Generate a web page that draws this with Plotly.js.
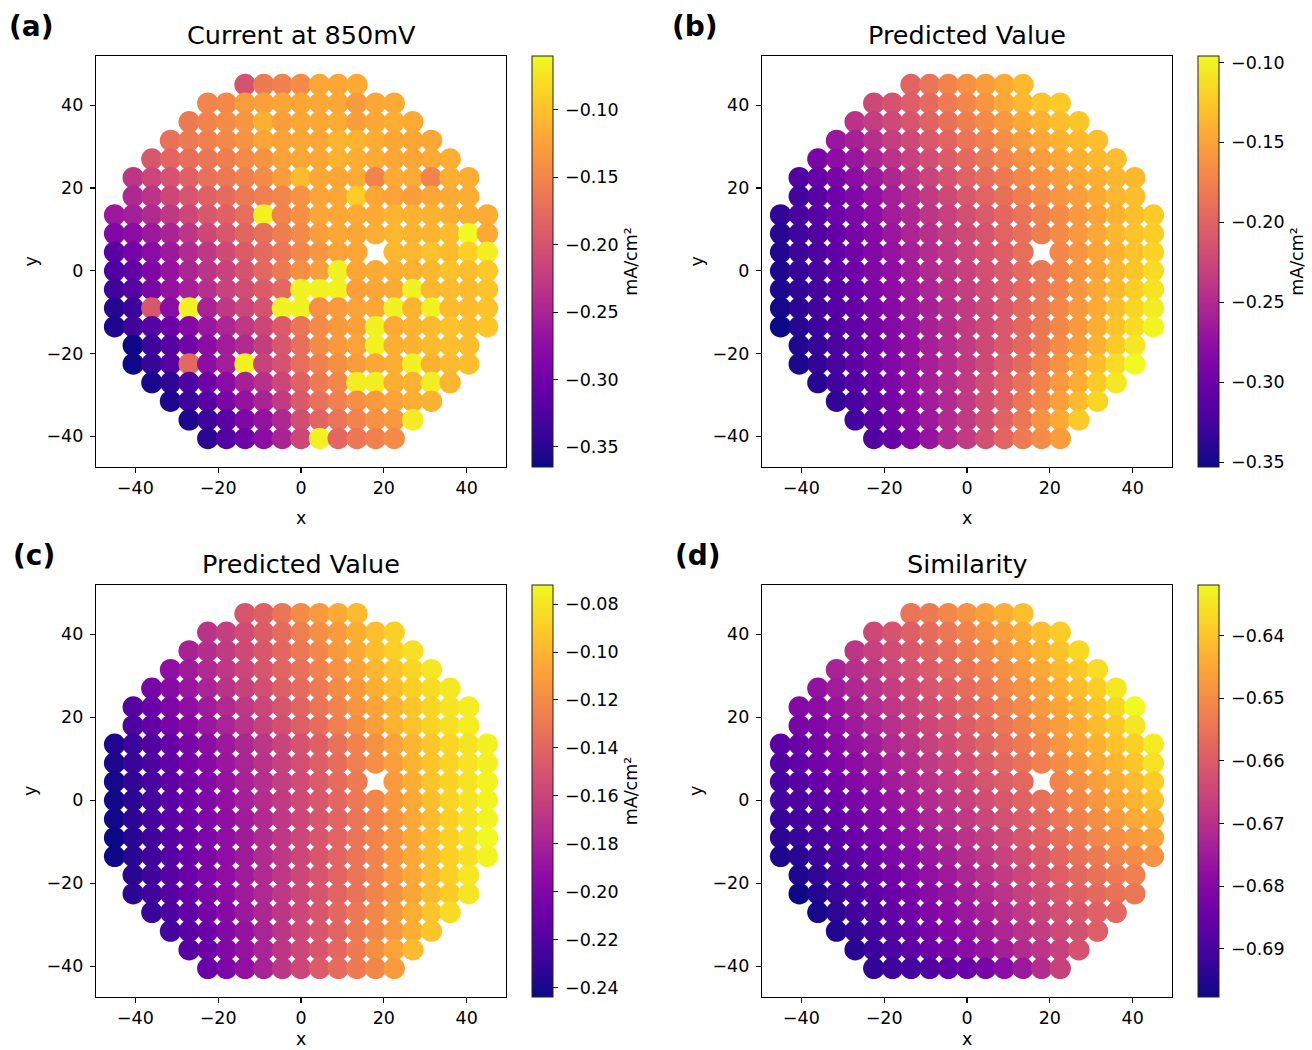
<!DOCTYPE html>
<html><head><meta charset="utf-8">
<script src="https://cdn.plot.ly/plotly-3.0.1.min.js"></script>
<style>html,body{margin:0;padding:0;background:#fff}#chart{width:1312px;height:1050px}</style>
</head><body><div id="chart"></div>
<script>
const n = null;
const xGrid = [-45,-40.5,-36,-31.5,-27,-22.5,-18,-13.5,-9,-4.5,0,4.5,9,13.5,18,22.5,27,31.5,36,40.5,45];
const yGrid = [45,40.5,36,31.5,27,22.5,18,13.5,9,4.5,0,-4.5,-9,-13.5,-18,-22.5,-27,-31.5,-36,-40.5];
const axisTicks = [-40,-20,0,20,40];
const panelTitles = ['Current at 850mV','Predicted Value','Predicted Value','Similarity'];
const panelLabels = ['(a)','(b)','(c)','(d)'];
const colorbarTitles = ['mA/cm²','mA/cm²','mA/cm²',''];
const colorbarSteps = [0.05,0.05,0.02,0.01];

const currentA = [
[n,n,n,n,n,n,n,-.200,-.160,-.155,-.145,-.120,-.120,-.118,n,n,n,n,n,n,n],
[n,n,n,n,n,-.150,-.148,-.130,-.127,-.122,-.120,-.120,-.120,-.132,-.120,-.118,n,n,n,n,n],
[n,n,n,n,-.160,-.152,-.145,-.135,-.113,-.128,-.120,-.120,-.118,-.128,-.120,-.115,-.118,n,n,n,n],
[n,n,n,-.170,-.160,-.155,-.148,-.138,-.122,-.125,-.120,-.120,-.110,-.110,-.115,-.120,-.120,-.120,n,n,n],
[n,n,-.195,-.182,-.172,-.165,-.157,-.146,-.138,-.124,-.120,-.120,-.112,-.115,-.118,-.120,-.120,-.118,-.115,n,n],
[n,-.230,-.215,-.200,-.185,-.170,-.162,-.155,-.145,-.130,-.105,-.120,-.120,-.118,-.152,-.118,-.118,-.152,-.115,-.115,n],
[n,-.245,-.232,-.212,-.198,-.185,-.175,-.163,-.156,-.150,-.138,-.122,-.120,-.093,-.120,-.125,-.128,-.120,-.118,-.115,n],
[-.262,-.255,-.243,-.228,-.212,-.196,-.185,-.172,-.066,-.152,-.140,-.122,-.120,-.118,-.118,-.110,-.112,-.112,-.115,-.116,-.117],
[-.285,-.277,-.262,-.250,-.230,-.213,-.196,-.180,-.171,-.157,-.146,-.128,-.120,-.120,-.116,-.108,-.110,-.110,-.106,-.060,-.118],
[-.315,-.295,-.277,-.262,-.243,-.228,-.208,-.190,-.177,-.164,-.149,-.135,-.125,-.120,n,-.108,-.108,-.100,-.105,-.090,-.068],
[-.325,-.310,-.287,-.268,-.249,-.233,-.217,-.200,-.178,-.160,-.142,-.128,-.066,-.120,-.118,-.114,-.112,-.108,-.100,-.103,-.096],
[-.335,-.318,-.290,-.268,-.254,-.238,-.217,-.205,-.190,-.177,-.066,-.065,-.066,-.127,-.122,-.118,-.066,-.108,-.104,-.105,-.100],
[-.350,-.338,-.195,-.277,-.066,-.250,-.228,-.212,-.200,-.066,-.066,-.140,-.132,-.124,-.121,-.066,-.110,-.066,-.105,-.105,-.100],
[-.355,-.335,-.318,-.302,-.282,-.264,-.247,-.228,-.212,-.190,-.165,-.146,-.133,-.126,-.066,-.118,-.111,-.107,-.100,-.103,-.098],
[n,-.365,-.337,-.320,-.297,-.277,-.258,-.243,-.222,-.195,-.172,-.145,-.133,-.124,-.066,-.115,-.112,-.106,-.103,-.103,n],
[n,-.364,-.340,-.320,-.178,-.276,-.256,-.066,-.217,-.200,-.172,-.155,-.142,-.130,-.121,-.115,-.066,-.112,-.106,-.103,n],
[n,n,-.357,-.345,-.325,-.300,-.277,-.252,-.236,-.212,-.185,-.161,-.149,-.068,-.068,-.115,-.112,-.068,-.109,n,n],
[n,n,n,-.355,-.338,-.315,-.290,-.268,-.250,-.225,-.192,-.170,-.155,-.142,-.133,-.124,-.115,-.112,n,n,n],
[n,n,n,n,-.355,-.338,-.315,-.287,-.268,-.245,-.205,-.182,-.167,-.152,-.139,-.133,-.070,n,n,n,n],
[n,n,n,n,n,-.348,-.320,-.300,-.276,-.250,-.2125,-.066,-.179,-.164,-.155,-.145,n,n,n,n,n]
];

const predictedB = [
[n,n,n,n,n,n,n,-.199,-.186,-.173,-.163,-.155,-.145,-.135,n,n,n,n,n,n,n],
[n,n,n,n,n,-.224,-.214,-.204,-.194,-.181,-.171,-.160,-.147,-.137,-.129,-.124,n,n,n,n,n],
[n,n,n,n,-.242,-.232,-.222,-.212,-.201,-.189,-.178,-.168,-.158,-.147,-.140,-.132,-.127,n,n,n,n],
[n,n,n,-.268,-.258,-.245,-.232,-.222,-.209,-.199,-.186,-.176,-.165,-.155,-.147,-.140,-.135,-.132,n,n,n],
[n,n,-.291,-.278,-.268,-.255,-.242,-.230,-.219,-.207,-.194,-.183,-.173,-.163,-.155,-.147,-.140,-.135,-.132,n,n],
[n,-.317,-.304,-.291,-.278,-.266,-.253,-.240,-.227,-.214,-.201,-.191,-.181,-.171,-.163,-.155,-.147,-.142,-.137,-.135,n],
[n,-.325,-.312,-.299,-.286,-.273,-.260,-.248,-.235,-.222,-.209,-.199,-.189,-.178,-.168,-.160,-.153,-.145,-.137,-.132,n],
[-.335,-.322,-.312,-.299,-.289,-.276,-.263,-.253,-.240,-.230,-.217,-.207,-.196,-.186,-.176,-.168,-.158,-.150,-.140,-.132,-.124],
[-.340,-.327,-.317,-.304,-.291,-.281,-.268,-.255,-.245,-.232,-.222,-.212,-.199,-.189,-.178,-.168,-.158,-.147,-.137,-.129,-.122],
[-.343,-.330,-.320,-.307,-.296,-.284,-.271,-.260,-.248,-.237,-.224,-.214,-.204,-.191,n,-.171,-.160,-.150,-.140,-.129,-.119],
[-.345,-.332,-.322,-.309,-.299,-.286,-.276,-.263,-.250,-.240,-.230,-.217,-.207,-.194,-.183,-.173,-.160,-.150,-.137,-.127,-.114],
[-.345,-.335,-.325,-.312,-.302,-.289,-.278,-.266,-.255,-.242,-.232,-.219,-.207,-.196,-.183,-.173,-.160,-.147,-.135,-.122,-.109],
[-.348,-.338,-.327,-.314,-.304,-.291,-.281,-.268,-.258,-.245,-.235,-.222,-.209,-.196,-.183,-.171,-.158,-.145,-.132,-.117,-.104],
[-.353,-.340,-.330,-.317,-.307,-.294,-.284,-.271,-.258,-.248,-.235,-.222,-.209,-.196,-.183,-.171,-.158,-.142,-.129,-.114,-.099],
[n,-.343,-.332,-.320,-.309,-.296,-.284,-.273,-.260,-.248,-.235,-.222,-.209,-.196,-.183,-.168,-.155,-.140,-.124,-.106,n],
[n,-.345,-.335,-.322,-.309,-.296,-.286,-.273,-.260,-.248,-.235,-.222,-.207,-.194,-.178,-.163,-.147,-.132,-.114,-.096,n],
[n,n,-.340,-.327,-.314,-.302,-.289,-.273,-.260,-.248,-.235,-.219,-.204,-.189,-.173,-.158,-.142,-.124,-.106,n,n],
[n,n,n,-.335,-.322,-.307,-.294,-.278,-.263,-.250,-.235,-.219,-.204,-.186,-.171,-.153,-.135,-.117,n,n,n],
[n,n,n,n,-.327,-.312,-.296,-.281,-.266,-.250,-.235,-.219,-.201,-.183,-.163,-.145,-.124,n,n,n,n],
[n,n,n,n,n,-.317,-.304,-.286,-.271,-.250,-.235,-.217,-.199,-.181,-.168,-.155,n,n,n,n,n]
];

const predictedC = [
[n,n,n,n,n,n,n,-.149,-.143,-.132,-.120,-.112,-.105,-.098,n,n,n,n,n,n,n],
[n,n,n,n,n,-.170,-.163,-.155,-.146,-.137,-.127,-.118,-.112,-.103,-.096,-.089,n,n,n,n,n],
[n,n,n,n,-.180,-.173,-.165,-.156,-.148,-.139,-.130,-.122,-.113,-.105,-.096,-.089,-.082,n,n,n,n],
[n,n,n,-.192,-.184,-.175,-.167,-.158,-.149,-.141,-.134,-.125,-.117,-.108,-.100,-.093,-.086,-.079,n,n,n],
[n,n,-.204,-.196,-.187,-.179,-.170,-.161,-.153,-.144,-.137,-.129,-.120,-.112,-.103,-.096,-.089,-.084,-.079,n,n],
[n,-.218,-.210,-.201,-.192,-.184,-.175,-.167,-.158,-.149,-.141,-.132,-.124,-.115,-.108,-.100,-.093,-.086,-.081,-.077,n],
[n,-.222,-.213,-.204,-.196,-.187,-.179,-.170,-.161,-.153,-.144,-.136,-.127,-.118,-.110,-.101,-.094,-.087,-.082,-.077,n],
[-.237,-.229,-.220,-.211,-.203,-.194,-.186,-.177,-.168,-.160,-.151,-.143,-.134,-.125,-.117,-.108,-.100,-.093,-.086,-.081,-.075],
[-.239,-.230,-.222,-.213,-.204,-.196,-.187,-.179,-.170,-.161,-.153,-.144,-.136,-.127,-.118,-.110,-.101,-.094,-.087,-.081,-.075],
[-.241,-.232,-.223,-.215,-.206,-.198,-.189,-.180,-.172,-.163,-.155,-.146,-.137,-.129,n,-.112,-.103,-.094,-.087,-.081,-.074],
[-.242,-.234,-.225,-.216,-.208,-.199,-.191,-.182,-.173,-.165,-.156,-.148,-.139,-.130,-.122,-.113,-.105,-.096,-.087,-.081,-.074],
[-.242,-.234,-.225,-.216,-.208,-.199,-.192,-.184,-.175,-.167,-.158,-.149,-.141,-.132,-.124,-.115,-.106,-.098,-.089,-.081,-.074],
[-.244,-.235,-.227,-.218,-.210,-.201,-.192,-.184,-.175,-.167,-.158,-.149,-.141,-.132,-.124,-.115,-.106,-.098,-.089,-.081,-.072],
[-.244,-.235,-.227,-.218,-.210,-.201,-.192,-.184,-.175,-.167,-.158,-.149,-.141,-.132,-.124,-.115,-.106,-.098,-.089,-.082,-.074],
[n,-.235,-.227,-.218,-.210,-.201,-.192,-.184,-.175,-.167,-.158,-.149,-.141,-.132,-.124,-.115,-.106,-.098,-.089,-.079,n],
[n,-.234,-.226,-.218,-.209,-.201,-.193,-.184,-.176,-.167,-.158,-.150,-.141,-.133,-.124,-.116,-.107,-.098,-.090,-.080,n],
[n,n,-.230,-.222,-.213,-.204,-.196,-.186,-.177,-.168,-.158,-.149,-.139,-.130,-.122,-.113,-.103,-.094,-.084,n,n],
[n,n,n,-.225,-.216,-.208,-.198,-.189,-.179,-.168,-.158,-.149,-.141,-.130,-.122,-.113,-.103,-.093,n,n,n],
[n,n,n,n,-.218,-.208,-.198,-.189,-.179,-.168,-.158,-.149,-.139,-.129,-.118,-.108,-.098,n,n,n,n],
[n,n,n,n,n,-.210,-.201,-.191,-.180,-.168,-.158,-.146,-.137,-.129,-.122,-.112,n,n,n,n,n]
];

const similarityD = [
[n,n,n,n,n,n,n,-.6549,-.6536,-.6510,-.6490,-.6464,-.6437,-.6411,n,n,n,n,n,n,n],
[n,n,n,n,n,-.6646,-.6620,-.6594,-.6568,-.6543,-.6517,-.6491,-.6466,-.6440,-.6414,-.6388,n,n,n,n,n],
[n,n,n,n,-.6687,-.6662,-.6636,-.6610,-.6584,-.6559,-.6533,-.6507,-.6482,-.6456,-.6430,-.6404,-.6370,n,n,n,n],
[n,n,n,-.6729,-.6703,-.6678,-.6652,-.6626,-.6600,-.6575,-.6549,-.6523,-.6498,-.6472,-.6446,-.6420,-.6395,-.6362,n,n,n],
[n,n,-.6771,-.6745,-.6719,-.6694,-.6668,-.6642,-.6616,-.6591,-.6565,-.6539,-.6514,-.6488,-.6462,-.6436,-.6411,-.6385,-.6345,n,n],
[n,-.6800,-.6787,-.6761,-.6735,-.6710,-.6684,-.6658,-.6632,-.6607,-.6581,-.6555,-.6530,-.6504,-.6478,-.6452,-.6427,-.6401,-.6370,-.6319,n],
[n,-.6820,-.6803,-.6777,-.6751,-.6726,-.6700,-.6674,-.6648,-.6623,-.6597,-.6571,-.6546,-.6520,-.6494,-.6468,-.6443,-.6417,-.6391,-.6350,n],
[-.6870,-.6844,-.6819,-.6793,-.6767,-.6742,-.6716,-.6690,-.6664,-.6639,-.6613,-.6587,-.6562,-.6536,-.6510,-.6484,-.6459,-.6433,-.6407,-.6382,-.6340],
[-.6886,-.6860,-.6835,-.6809,-.6783,-.6758,-.6732,-.6706,-.6680,-.6655,-.6629,-.6603,-.6578,-.6552,-.6526,-.6500,-.6475,-.6449,-.6423,-.6398,-.6355],
[-.6902,-.6876,-.6851,-.6825,-.6799,-.6774,-.6748,-.6722,-.6696,-.6671,-.6645,-.6619,-.6594,-.6575,n,-.6516,-.6491,-.6465,-.6439,-.6414,-.6385],
[-.6905,-.6892,-.6867,-.6841,-.6815,-.6790,-.6764,-.6738,-.6712,-.6687,-.6661,-.6635,-.6610,-.6584,-.6558,-.6532,-.6507,-.6481,-.6455,-.6430,-.6405],
[-.6925,-.6908,-.6883,-.6857,-.6831,-.6806,-.6780,-.6754,-.6728,-.6703,-.6677,-.6651,-.6626,-.6600,-.6574,-.6548,-.6523,-.6497,-.6471,-.6446,-.6431],
[-.6940,-.6924,-.6899,-.6873,-.6847,-.6822,-.6796,-.6770,-.6744,-.6719,-.6693,-.6667,-.6642,-.6616,-.6590,-.6564,-.6539,-.6513,-.6495,-.6475,-.6460],
[-.6955,-.6940,-.6915,-.6889,-.6863,-.6838,-.6812,-.6786,-.6760,-.6735,-.6709,-.6683,-.6658,-.6632,-.6606,-.6580,-.6555,-.6535,-.6515,-.6500,-.6490],
[n,-.6956,-.6931,-.6905,-.6879,-.6854,-.6828,-.6802,-.6776,-.6751,-.6725,-.6699,-.6674,-.6648,-.6622,-.6596,-.6575,-.6555,-.6540,-.6525,n],
[n,-.6977,-.6947,-.6921,-.6895,-.6870,-.6844,-.6818,-.6792,-.6767,-.6741,-.6715,-.6690,-.6664,-.6638,-.6612,-.6587,-.6570,-.6555,-.6543,n],
[n,n,-.6964,-.6937,-.6911,-.6886,-.6860,-.6834,-.6808,-.6783,-.6757,-.6731,-.6706,-.6680,-.6654,-.6628,-.6610,-.6590,-.6576,n,n],
[n,n,n,-.6951,-.6927,-.6902,-.6876,-.6850,-.6824,-.6799,-.6773,-.6747,-.6722,-.6696,-.6670,-.6644,-.6625,-.6595,n,n,n],
[n,n,n,n,-.6943,-.6918,-.6892,-.6866,-.6840,-.6815,-.6789,-.6763,-.6738,-.6712,-.6686,-.6660,-.6622,n,n,n,n],
[n,n,n,n,n,-.6931,-.6918,-.6905,-.6885,-.6865,-.6845,-.6819,-.6786,-.6753,-.6707,-.6661,n,n,n,n,n]
];

const panelData = [currentA, predictedB, predictedC, similarityD];

// ---- styling / layout ----
const FONT = 'DejaVu Sans, Verdana, sans-serif';
const W = 1312, H = 1050;
const plasma = [[0,'#0d0887'],[0.1,'#41049d'],[0.2,'#6a00a8'],[0.3,'#8f0da4'],[0.4,'#b12a90'],
  [0.5,'#cc4778'],[0.6,'#e16462'],[0.7,'#f2844b'],[0.8,'#fca636'],[0.9,'#fcce25'],[1,'#f0f921']];
const boxes = [{l:96,t:56,w:410,h:411},{l:762,t:56,w:410,h:411},{l:96,t:585,w:410,h:412},{l:762,t:585,w:410,h:412}];
const labelPos = [{x:31,y:26},{x:695,y:26},{x:34,y:555},{x:698,y:555}];

const traces = [];
const layout = {width:W,height:H,margin:{l:0,r:0,t:0,b:0},paper_bgcolor:'#fff',plot_bgcolor:'#fff',
  showlegend:false,font:{family:FONT,color:'#000'},annotations:[]};

panelData.forEach((grid, p) => {
  if (grid.length !== yGrid.length) throw new Error('rows panel '+p);
  const xs=[], ys=[], cs=[];
  grid.forEach((row, j) => {
    if (row.length !== xGrid.length) throw new Error('row length panel '+p+' row '+j+': '+row.length);
    row.forEach((v, i) => { if (v !== null) { xs.push(xGrid[i]); ys.push(yGrid[j]); cs.push(v); } });
  });
  const cmin = Math.min(...cs), cmax = Math.max(...cs);
  const b = boxes[p];
  const sfx = p === 0 ? '' : String(p+1);
  const cb = {
    x:(b.l+b.w+26)/W, xanchor:'left', y:1-b.t/H, yanchor:'top',
    len:b.h, lenmode:'pixels', thickness:21, thicknessmode:'pixels', xpad:0, ypad:0,
    outlinewidth:1, outlinecolor:'#222', ticks:'outside', ticklen:5, tickwidth:1, tickcolor:'#000',
    tick0:0, dtick:colorbarSteps[p], tickformat:'.2f', tickprefix:'\u2009',
    tickfont:{family:FONT,size:17.5,color:'#000'}
  };
  if (colorbarTitles[p]) cb.title = {text:colorbarTitles[p], side:'right', font:{family:FONT,size:17.5,color:'#000'}};
  traces.push({type:'scatter', mode:'markers', x:xs, y:ys, xaxis:'x'+sfx, yaxis:'y'+sfx,
    hoverinfo:'x+y+text', text:cs.map(String),
    marker:{color:cs, colorscale:plasma, cmin:cmin, cmax:cmax, size:21.5, line:{width:0}, opacity:1, colorbar:cb}});
  const common = {tickvals:axisTicks, ticks:'outside', ticklen:5, tickwidth:1.1, tickcolor:'#000',
    showline:true, linecolor:'#000', linewidth:1.1, mirror:true, showgrid:false, zeroline:false,
    tickfont:{family:FONT,size:17.5,color:'#000'}, fixedrange:true};
  layout['xaxis'+sfx] = Object.assign({}, common, {domain:[b.l/W,(b.l+b.w)/W], range:[-49.5,49.5], anchor:'y'+sfx});
  layout['yaxis'+sfx] = Object.assign({}, common, {domain:[1-(b.t+b.h)/H,1-b.t/H], range:[-47.4,51.9], anchor:'x'+sfx, ticklabelstandoff:3});
  const cx = b.l + b.w/2;
  layout.annotations.push({text:panelTitles[p], x:cx/W, y:1-(b.t-21)/H, xref:'paper', yref:'paper',
    xanchor:'center', yanchor:'middle', showarrow:false, font:{family:FONT,size:25.5,color:'#000'}});
  layout.annotations.push({text:'<b>'+panelLabels[p]+'</b>', x:labelPos[p].x/W, y:1-labelPos[p].y/H, xref:'paper', yref:'paper',
    xanchor:'center', yanchor:'middle', showarrow:false, font:{family:FONT,size:28,color:'#000'}});
  const xLabelBottom = Math.min(b.t + b.h + 62, H);
  layout.annotations.push({text:'x', x:cx/W, y:1-xLabelBottom/H, xref:'paper', yref:'paper', borderpad:0,
    xanchor:'center', yanchor:'bottom', showarrow:false, font:{family:FONT,size:17.5,color:'#000'}});
  layout.annotations.push({text:'y', x:(b.l-66)/W, y:1-(b.t+b.h/2)/H, xref:'paper', yref:'paper', textangle:-90,
    xanchor:'center', yanchor:'middle', showarrow:false, font:{family:FONT,size:17.5,color:'#000'}});
});

Plotly.newPlot('chart', traces, layout, {staticPlot:true, displayModeBar:false});
</script>
</body></html>
